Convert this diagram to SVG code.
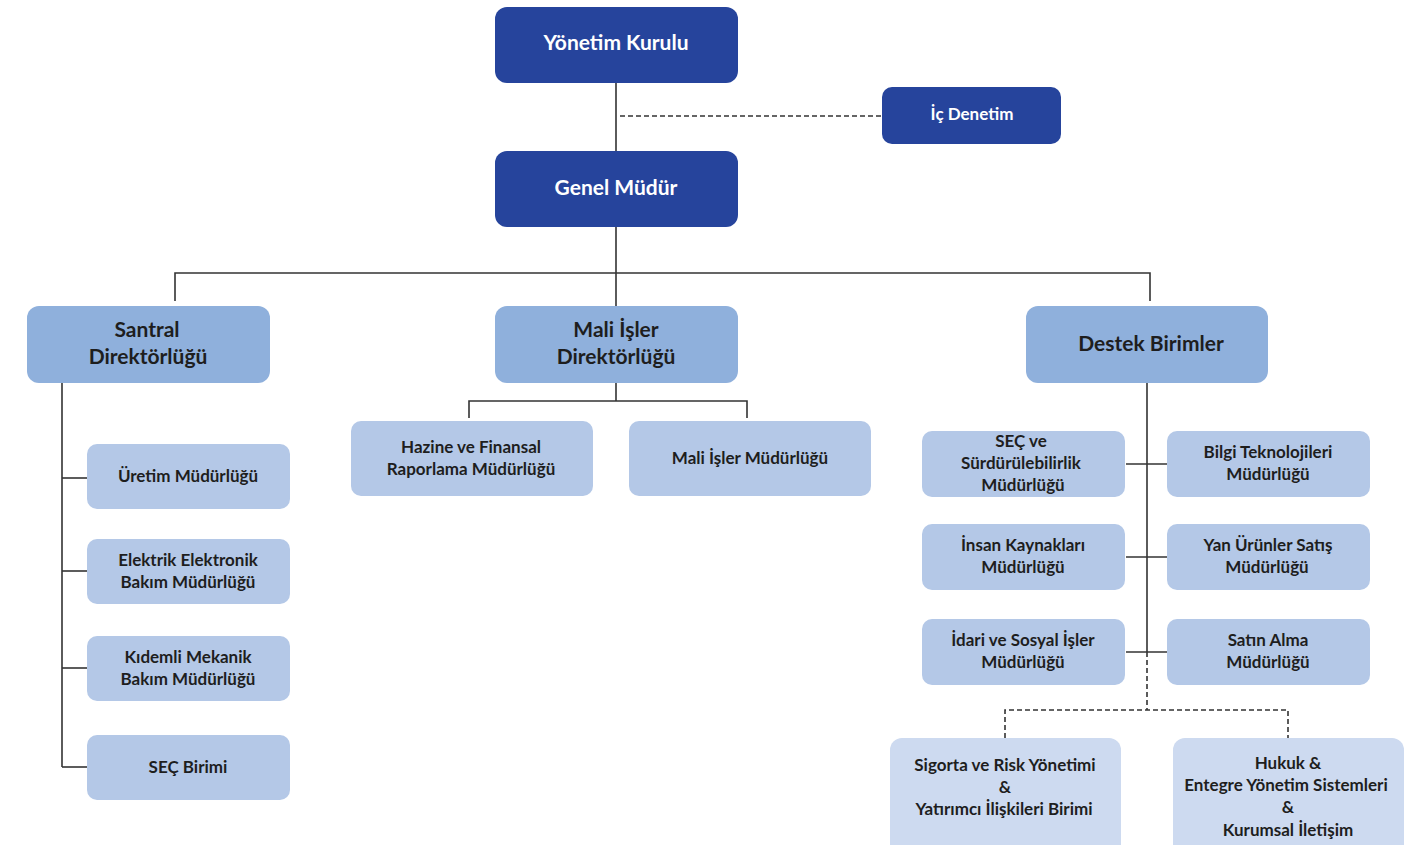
<svg xmlns="http://www.w3.org/2000/svg" width="1405" height="845" viewBox="0 0 1405 845">
<style>
text{font-family:Lato,"Open Sans","Liberation Sans",sans-serif;font-weight:bold;text-anchor:middle}
.d rect{fill:#26449c}
.d text{fill:#fff;font-size:21px}
.m rect{fill:#8fb0dc}
.m text{fill:#1e1e1e;font-size:21px}
.l rect{fill:#b4c8e7}
.l text{fill:#1e1e1e;font-size:17px}
.p rect{fill:#cddaf0}
.p text{fill:#1e1e1e;font-size:17px}
.c line,.c polyline{stroke:#333;stroke-width:1.6;fill:none}
.c .dash{stroke-dasharray:5 3}
</style>
<g class="c" id="connectors">
<line x1="616" y1="83" x2="616" y2="151"/>
<line class="dash" x1="620" y1="116" x2="882" y2="116"/>
<line x1="616" y1="227" x2="616" y2="306"/>
<polyline points="175,301 175,273 1150,273 1150,301"/>
<line x1="62" y1="383" x2="62" y2="767"/>
<line x1="62" y1="478" x2="87" y2="478"/>
<line x1="62" y1="571" x2="87" y2="571"/>
<line x1="62" y1="668" x2="87" y2="668"/>
<line x1="62" y1="767" x2="87" y2="767"/>
<line x1="616" y1="383" x2="616" y2="401"/>
<polyline points="469,418 469,401 747,401 747,418"/>
<line x1="1147" y1="383" x2="1147" y2="652"/>
<line class="dash" x1="1147" y1="652" x2="1147" y2="710"/>
<line x1="1126" y1="464" x2="1167" y2="464"/>
<line x1="1126" y1="557" x2="1167" y2="557"/>
<line x1="1126" y1="652" x2="1167" y2="652"/>
<polyline class="dash" points="1005,738 1005,710 1288,710 1288,738"/>
</g>
<g class="d" id="yonetim-kurulu"><rect x="495" y="7" width="243" height="76" rx="12"/><text x="616" y="50">Yönetim Kurulu</text></g>
<g class="d" id="ic-denetim"><rect x="882" y="87" width="179" height="57" rx="10"/><text x="972" y="120" style="font-size:17px">İç Denetim</text></g>
<g class="d" id="genel-mudur"><rect x="495" y="151" width="243" height="76" rx="12"/><text x="616" y="195">Genel Müdür</text></g>
<g class="m" id="santral"><rect x="27" y="306" width="243" height="77" rx="12"/><text x="147" y="337">Santral</text><text x="148" y="364">Direktörlüğü</text></g>
<g class="m" id="mali-isler"><rect x="495" y="306" width="243" height="77" rx="12"/><text x="616" y="337">Mali İşler</text><text x="616" y="364">Direktörlüğü</text></g>
<g class="m" id="destek"><rect x="1026" y="306" width="242" height="77" rx="12"/><text x="1151" y="351">Destek Birimler</text></g>
<g class="l" id="uretim"><rect x="87" y="444" width="203" height="65" rx="10"/><text x="188" y="482">Üretim Müdürlüğü</text></g>
<g class="l" id="elektrik"><rect x="87" y="539" width="203" height="65" rx="10"/><text x="188" y="566">Elektrik Elektronik</text><text x="188" y="588">Bakım Müdürlüğü</text></g>
<g class="l" id="kidemli"><rect x="87" y="636" width="203" height="65" rx="10"/><text x="188" y="663">Kıdemli Mekanik</text><text x="188" y="685">Bakım Müdürlüğü</text></g>
<g class="l" id="sec-birimi"><rect x="87" y="735" width="203" height="65" rx="10"/><text x="188" y="773">SEÇ Birimi</text></g>
<g class="l" id="hazine"><rect x="351" y="421" width="242" height="75" rx="10"/><text x="471" y="453">Hazine ve Finansal</text><text x="471" y="475">Raporlama Müdürlüğü</text></g>
<g class="l" id="mali-mudurluk"><rect x="629" y="421" width="242" height="75" rx="10"/><text x="750" y="464">Mali İşler Müdürlüğü</text></g>
<g class="l" id="sec-surdurulebilirlik"><rect x="922" y="431" width="203" height="66" rx="10"/><text x="1021" y="447">SEÇ ve</text><text x="1021" y="469">Sürdürülebilirlik</text><text x="1023" y="491">Müdürlüğü</text></g>
<g class="l" id="bilgi"><rect x="1167" y="431" width="203" height="66" rx="10"/><text x="1268" y="458">Bilgi Teknolojileri</text><text x="1268" y="480">Müdürlüğü</text></g>
<g class="l" id="insan"><rect x="922" y="524" width="203" height="66" rx="10"/><text x="1023" y="551">İnsan Kaynakları</text><text x="1023" y="573">Müdürlüğü</text></g>
<g class="l" id="yan-urunler"><rect x="1167" y="524" width="203" height="66" rx="10"/><text x="1268" y="551">Yan Ürünler Satış</text><text x="1267" y="573">Müdürlüğü</text></g>
<g class="l" id="idari"><rect x="922" y="619" width="203" height="66" rx="10"/><text x="1023" y="646">İdari ve Sosyal İşler</text><text x="1023" y="668">Müdürlüğü</text></g>
<g class="l" id="satin-alma"><rect x="1167" y="619" width="203" height="66" rx="10"/><text x="1268" y="646">Satın Alma</text><text x="1268" y="668">Müdürlüğü</text></g>
<g class="p" id="sigorta"><rect x="890" y="738" width="231" height="120" rx="12"/><text x="1005" y="771">Sigorta ve Risk Yönetimi</text><text x="1005" y="793">&amp;</text><text x="1004" y="815">Yatırımcı İlişkileri Birimi</text></g>
<g class="p" id="hukuk"><rect x="1173" y="738" width="231" height="120" rx="12"/><text x="1288" y="769">Hukuk &amp;</text><text x="1286" y="791">Entegre Yönetim Sistemleri</text><text x="1288" y="813">&amp;</text><text x="1288" y="836">Kurumsal İletişim</text></g>
</svg>
